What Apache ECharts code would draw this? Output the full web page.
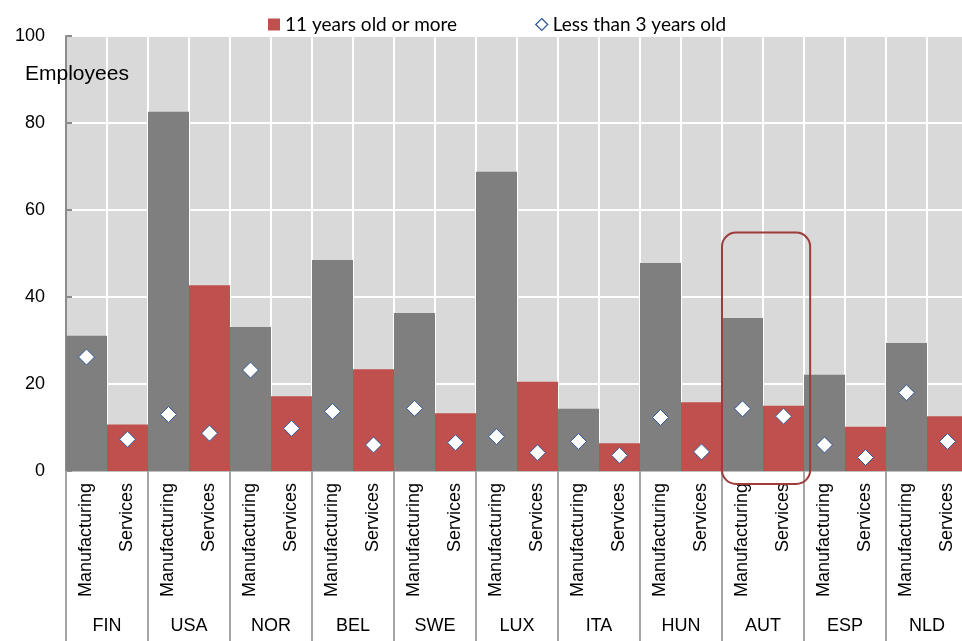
<!DOCTYPE html>
<html>
<head>
<meta charset="utf-8">
<script src="https://cdn.jsdelivr.net/npm/echarts@6/dist/echarts.min.js"></script>
<style>
  html, body { margin: 0; padding: 0; background: #fff; }
  #chart { width: 962px; height: 641px; }
</style>
</head>
<body>
<div id="chart"></div>
<script>
// Firm size by age of firm, manufacturing vs services
const countries = ['FIN', 'USA', 'NOR', 'BEL', 'SWE', 'LUX', 'ITA', 'HUN', 'AUT', 'ESP', 'NLD'];
const sectors = ['Manufacturing', 'Services'];

// Average employees, firms 11 years old or more (Manufacturing, Services per country)
const oldFirms = [
  31.1, 10.7,
  82.6, 42.7,
  33.1, 17.2,
  48.5, 23.4,
  36.3, 13.3,
  68.8, 20.5,
  14.3, 6.4,
  47.8, 15.8,
  35.2, 15.0,
  22.1, 10.2,
  29.4, 12.6
];

// Average employees, firms less than 3 years old
const youngFirms = [
  26.2, 7.3,
  13.0, 8.7,
  23.2, 9.8,
  13.7, 6.0,
  14.4, 6.5,
  7.9, 4.2,
  6.8, 3.6,
  12.3, 4.4,
  14.3, 12.6,
  6.0, 3.1,
  18.0, 6.8
];

const yTicks = [0, 20, 40, 60, 80, 100];

const GREY = '#7f7f7f';
const RED = '#c0504d';
const FONT = '"Liberation Sans", Arial, sans-serif';

// one slot per country/sector pair
const slots = [];
countries.forEach(c => sectors.forEach(s => slots.push(c + '|' + s)));

const barData = oldFirms.map((v, i) => ({
  value: v,
  itemStyle: { color: slots[i].endsWith('Manufacturing') ? GREY : RED }
}));

const chart = echarts.init(document.getElementById('chart'), null, { renderer: 'canvas' });

chart.setOption({
  animation: false,
  backgroundColor: '#ffffff',
  title: {
    text: 'Employees',
    left: 20,
    top: 59,
    textStyle: { fontFamily: FONT, fontSize: 21, fontWeight: 'normal', color: '#000' }
  },
  legend: {
    top: 15,
    left: 268,
    padding: 0,
    itemGap: 78,
    itemWidth: 12,
    itemHeight: 12,
    textStyle: { fontFamily: 'Lato, sans-serif', fontSize: 19, color: '#000' },
    data: [
      { name: '11 years old or more', icon: 'rect' },
      { name: 'Less than 3 years old', icon: 'diamond',
        itemStyle: { color: '#fff', borderColor: '#2f5597', borderWidth: 1.2 } }
    ]
  },
  grid: {
    left: 66,
    width: 902,
    top: 36,
    bottom: 170,
    outerBoundsMode: 'none',
    containLabel: false,
    show: true,
    backgroundColor: '#d9d9d9',
    borderWidth: 0
  },
  xAxis: [
    {
      type: 'category',
      position: 'bottom',
      data: slots,
      boundaryGap: true,
      axisLine: { show: true, lineStyle: { color: '#bfbfbf', width: 1 } },
      axisTick: { show: false },
      splitLine: { show: true, interval: 0, lineStyle: { color: '#ffffff', width: 2 } },
      axisLabel: {
        interval: 0,
        rotate: 90,
        margin: 12,
        fontFamily: FONT,
        fontSize: 18,
        color: '#000',
        formatter: v => v.split('|')[1]
      }
    },
    {
      type: 'category',
      position: 'bottom',
      data: countries,
      boundaryGap: true,
      axisLine: { show: false },
      axisTick: { show: true, interval: 0, length: 172, lineStyle: { color: '#a6a6a6', width: 2 } },
      splitLine: { show: false },
      axisLabel: {
        interval: 0,
        margin: 146,
        fontFamily: FONT,
        fontSize: 18,
        color: '#000'
      }
    }
  ],
  yAxis: {
    type: 'value',
    min: 0,
    max: 100,
    interval: 20,
    axisLine: { show: true, lineStyle: { color: '#8c8c8c', width: 2 } },
    axisTick: { show: true, inside: true, length: 6, lineStyle: { color: '#8c8c8c', width: 2 } },
    splitLine: { show: true, lineStyle: { color: '#ffffff', width: 2 } },
    axisLabel: {
      margin: 21,
      fontFamily: FONT,
      fontSize: 18,
      color: '#000',
      customValues: yTicks
    }
  },
  series: [
    {
      name: '11 years old or more',
      type: 'bar',
      xAxisIndex: 0,
      yAxisIndex: 0,
      barWidth: '100%',
      barCategoryGap: 0,
      itemStyle: { color: RED },
      data: barData,
      z: 2
    },
    {
      name: 'Less than 3 years old',
      type: 'scatter',
      xAxisIndex: 0,
      yAxisIndex: 0,
      symbol: 'diamond',
      symbolSize: 16,
      itemStyle: { color: '#ffffff', borderColor: '#2f5597', borderWidth: 1, opacity: 1 },
      data: youngFirms,
      z: 3
    }
  ]
});

// Rounded frame highlighting the Austrian pair
const highlightCountry = 'AUT';
const highlightTop = 54.8;
const first = slots.indexOf(highlightCountry + '|Manufacturing');
const x1 = chart.convertToPixel({ xAxisIndex: 0 }, first);
const x2 = chart.convertToPixel({ xAxisIndex: 0 }, first + 1);
const slotW = x2 - x1;
const yTop = chart.convertToPixel({ yAxisIndex: 0 }, highlightTop);
const yZero = chart.convertToPixel({ yAxisIndex: 0 }, 0);
const left = x1 - slotW / 2;
const right = x2 + slotW * 0.65;
const bottom = yZero + 13;

chart.setOption({
  graphic: [{
    type: 'rect',
    z: 100,
    shape: { x: left, y: yTop, width: right - left, height: bottom - yTop, r: 14 },
    style: { fill: 'none', stroke: '#9e3b3b', lineWidth: 2 }
  }]
});
</script>
</body>
</html>
